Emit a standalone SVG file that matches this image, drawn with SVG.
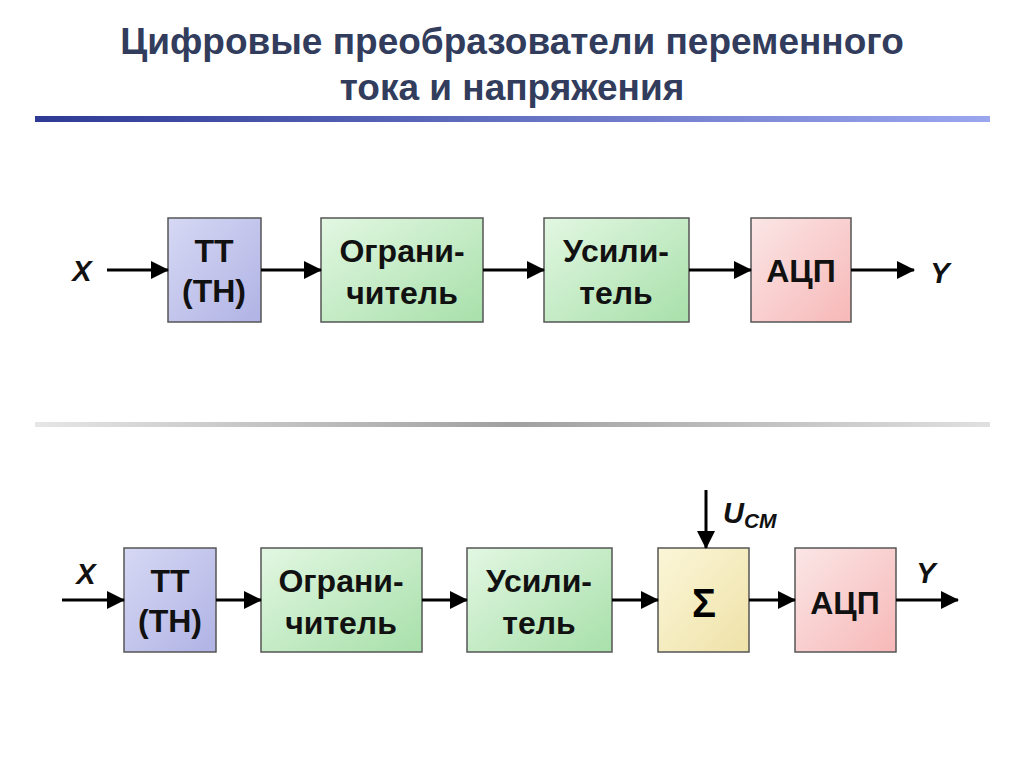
<svg xmlns="http://www.w3.org/2000/svg" width="1024" height="767" viewBox="0 0 1024 767">
<defs>
<linearGradient id="hb" x1="0" x2="1"><stop offset="0" stop-color="#2e3a94"/><stop offset="1" stop-color="#9aa6ee"/></linearGradient>
<linearGradient id="gb" x1="0" x2="1"><stop offset="0" stop-color="#e6e6e6"/><stop offset="0.5" stop-color="#a0a0a0"/><stop offset="1" stop-color="#e0e0e0"/></linearGradient>
<linearGradient id="blue" x1="0" y1="0" x2="1" y2="1"><stop offset="0" stop-color="#d6d8f4"/><stop offset="1" stop-color="#b0b3e4"/></linearGradient>
<linearGradient id="green" x1="0" y1="0" x2="1" y2="1"><stop offset="0" stop-color="#e2f7e2"/><stop offset="1" stop-color="#a8e0aa"/></linearGradient>
<linearGradient id="pink" x1="0" y1="0" x2="1" y2="1"><stop offset="0" stop-color="#fbe6e6"/><stop offset="1" stop-color="#f7b8b8"/></linearGradient>
<linearGradient id="yel" x1="0" y1="0" x2="1" y2="1"><stop offset="0" stop-color="#fbf6d8"/><stop offset="1" stop-color="#efe2a8"/></linearGradient>
<marker id="ar" markerWidth="18" markerHeight="18" refX="17" refY="9" orient="auto" markerUnits="userSpaceOnUse" viewBox="0 0 18 18"><path d="M0,0 L18,9 L0,18 z" fill="#000"/></marker>
<style>
.t{font-family:"Liberation Sans",Arial,sans-serif;font-weight:bold;text-anchor:middle}
.title{font-size:37px;fill:#323c5c}
.lbl{font-size:32px;fill:#111}
.io{font-size:29px;font-style:italic;fill:#111}
.box{stroke:#555;stroke-width:1.5}
.c line{stroke:#000;stroke-width:3}
</style>
</defs>
<rect width="1024" height="767" fill="#fff"/>
<text class="t title" x="512" y="54">Цифровые преобразователи переменного</text>
<text class="t title" x="512" y="100">тока и напряжения</text>
<rect x="35" y="116" width="955" height="6" fill="url(#hb)"/>
<rect x="35" y="422" width="955" height="5" fill="url(#gb)"/>

<g id="n1"><rect class="box" x="168" y="218" width="93" height="104" fill="url(#blue)"/><text class="t lbl" x="214" y="262">ТТ</text><text class="t lbl" x="214" y="302">(ТН)</text></g>
<g id="n2"><rect class="box" x="321" y="218" width="162" height="104" fill="url(#green)"/><text class="t lbl" x="402" y="262">Ограни-</text><text class="t lbl" x="402" y="304">читель</text></g>
<g id="n3"><rect class="box" x="544" y="218" width="145" height="104" fill="url(#green)"/><text class="t lbl" x="616" y="262">Усили-</text><text class="t lbl" x="616" y="304">тель</text></g>
<g id="n4"><rect class="box" x="751" y="218" width="100" height="104" fill="url(#pink)"/><text class="t lbl" x="801" y="282">АЦП</text></g>
<text class="t io" x="82" y="281">X</text>
<text class="t io" x="940" y="283">Y</text>

<g id="m1"><rect class="box" x="124" y="548" width="92" height="104" fill="url(#blue)"/><text class="t lbl" x="170" y="592">ТТ</text><text class="t lbl" x="170" y="632">(ТН)</text></g>
<g id="m2"><rect class="box" x="261" y="548" width="161" height="104" fill="url(#green)"/><text class="t lbl" x="341" y="592">Ограни-</text><text class="t lbl" x="341" y="634">читель</text></g>
<g id="m3"><rect class="box" x="467" y="548" width="145" height="104" fill="url(#green)"/><text class="t lbl" x="539" y="592">Усили-</text><text class="t lbl" x="539" y="634">тель</text></g>
<g id="m4"><rect class="box" x="658" y="548" width="91" height="104" fill="url(#yel)"/><text class="t" style="font-size:40px" x="704" y="617">Σ</text></g>
<g id="m5"><rect class="box" x="795" y="548" width="101" height="104" fill="url(#pink)"/><text class="t lbl" x="845" y="614">АЦП</text></g>
<text class="t io" x="86" y="584">X</text>
<text class="t io" x="926" y="583">Y</text>
<text class="t io" x="723" y="523" style="text-anchor:start">U<tspan font-size="21" dy="5">CM</tspan></text>

<g class="c" id="connectors">
<line x1="107" y1="270" x2="168" y2="270" marker-end="url(#ar)"/>
<line x1="261" y1="270" x2="321" y2="270" marker-end="url(#ar)"/>
<line x1="483" y1="270" x2="544" y2="270" marker-end="url(#ar)"/>
<line x1="689" y1="270" x2="751" y2="270" marker-end="url(#ar)"/>
<line x1="851" y1="270" x2="914" y2="270" marker-end="url(#ar)"/>
<line x1="62" y1="600" x2="124" y2="600" marker-end="url(#ar)"/>
<line x1="216" y1="600" x2="261" y2="600" marker-end="url(#ar)"/>
<line x1="422" y1="600" x2="467" y2="600" marker-end="url(#ar)"/>
<line x1="612" y1="600" x2="658" y2="600" marker-end="url(#ar)"/>
<line x1="749" y1="600" x2="795" y2="600" marker-end="url(#ar)"/>
<line x1="896" y1="600" x2="958" y2="600" marker-end="url(#ar)"/>
<line x1="706" y1="490" x2="706" y2="548" marker-end="url(#ar)"/>
</g>
</svg>
